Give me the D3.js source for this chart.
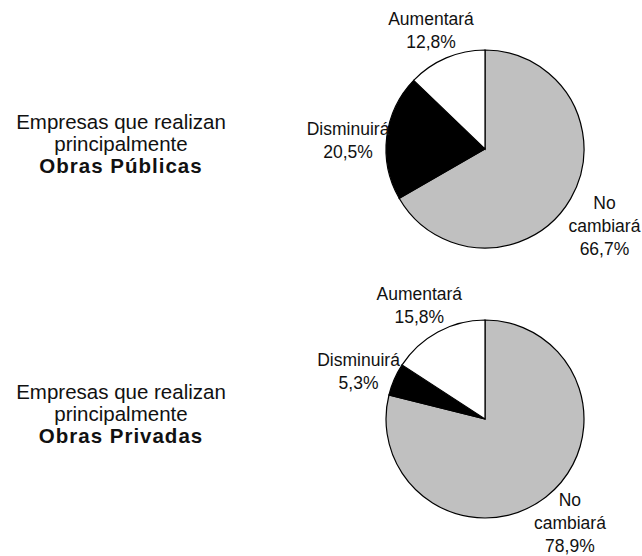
<!doctype html>
<html>
<head>
<meta charset="utf-8">
<script src="https://cdnjs.cloudflare.com/ajax/libs/d3/7.8.5/d3.min.js"></script>
<style>
  body { margin: 0; background: white; }
  svg { background: white; display: block; }
  text { font-family: "Liberation Sans", Arial, sans-serif; fill: #111; }
</style>
</head>
<body>
<svg width="642" height="556"></svg>
<script>
// data
const categories = ["No cambiará", "Disminuirá", "Aumentará"];
const labelLines = [["No", "cambiará"], ["Disminuirá"], ["Aumentará"]];
const obrasPublicas = [66.7, 20.5, 12.8];
const obrasPrivadas = [78.9, 5.3, 15.8];
const groupNames = ["Obras Públicas", "Obras Privadas"];
const groupValues = [obrasPublicas, obrasPrivadas];
const subtitle = ["Empresas que realizan", "principalmente"];
const colors = ["#c0c0c0", "#000000", "#ffffff"];

const H = 556;
const svg = d3.select("svg");
const cx = 485, radius = 99, lineH = 23;
const yPos = d3.scalePoint().domain(groupNames).range([149, 419]);
const color = d3.scaleOrdinal().domain(categories).range(colors);

const pie = d3.pie().sort(null).value(d => d.value);
const arc = d3.arc().innerRadius(0).outerRadius(radius);
const labelArc = d3.arc().innerRadius(138).outerRadius(138);
const fmt = v => v.toFixed(1).replace(".", ",") + "%";

groupNames.forEach((name, gi) => {
  const cy = yPos(name);
  const rows = categories.map((c, i) => ({cat: c, value: groupValues[gi][i], lines: labelLines[i]}));
  const g = svg.append("g").attr("transform", `translate(${cx},${cy})`);

  g.selectAll("path")
    .data(pie(rows))
    .enter()
    .append("path")
    .attr("d", arc)
    .style("fill", d => color(d.data.cat))
    .style("stroke", "#000")
    .style("stroke-width", "1.2px");

  // slice labels, kept inside the picture
  g.selectAll("text.lbl")
    .data(pie(rows))
    .enter()
    .append("text")
    .attr("class", "lbl")
    .attr("text-anchor", "middle")
    .style("font-size", "17.5px")
    .each(function(d) {
      const [x, y] = labelArc.centroid(d);
      const lines = d.data.lines.concat([fmt(d.data.value)]);
      let y0 = y + 14 - (lines.length - 1) / 2 * lineH;
      const maxY0 = H - 4 - cy - (lines.length - 1) * lineH;
      y0 = Math.min(y0, maxY0);
      const t = d3.select(this);
      lines.forEach((ln, i) => {
        t.append("tspan")
          .attr("x", x)
          .attr("y", y0 + i * lineH)
          .text(ln);
      });
    });

  // left title
  const title = svg.append("text")
    .attr("text-anchor", "middle")
    .style("font-size", "20.5px");
  subtitle.forEach((s, i) => {
    title.append("tspan").attr("x", 121).attr("y", cy - 20 + i * 22).text(s);
  });
  title.append("tspan")
    .attr("x", 121).attr("y", cy + 24)
    .style("font-weight", "bold")
    .style("letter-spacing", "1px")
    .text(name);
});
</script>
</body>
</html>
